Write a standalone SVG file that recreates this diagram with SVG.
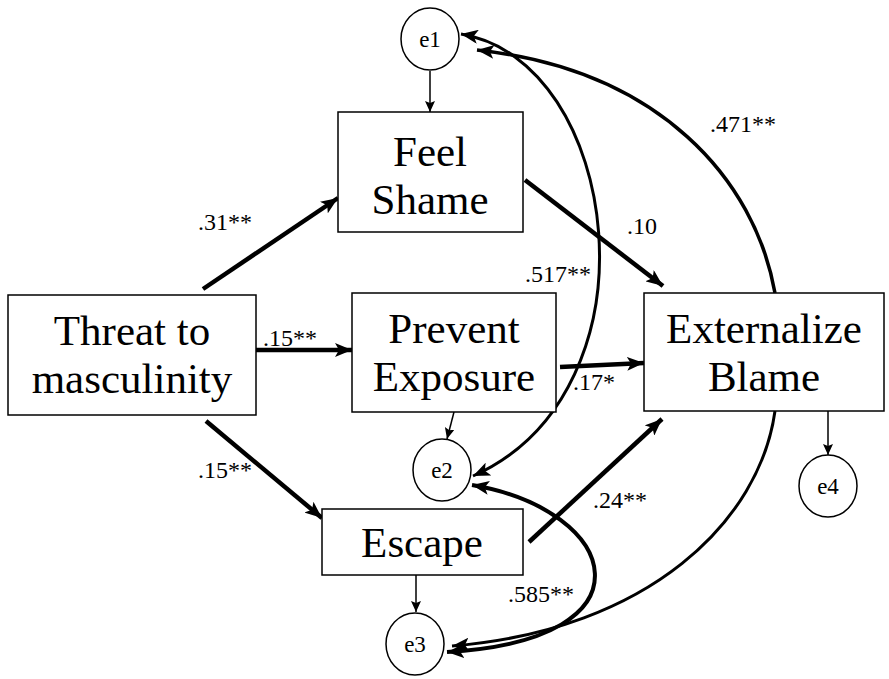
<svg xmlns="http://www.w3.org/2000/svg" width="889" height="679" viewBox="0 0 889 679">
  <style>
    .box { fill: #ffffff; stroke: #000000; stroke-width: 1.5; }
    .err { fill: #ffffff; stroke: #000000; stroke-width: 1.5; }
    .name { font-family: "Liberation Serif", "Times New Roman", serif; font-size: 43px; fill: #000000; text-anchor: middle; }
    .ename { font-family: "Liberation Serif", "Times New Roman", serif; font-size: 23px; fill: #000000; text-anchor: middle; }
    .coef { font-family: "Liberation Serif", "Times New Roman", serif; font-size: 24px; fill: #000000; }
    .path { fill: none; stroke: #000000; stroke-width: 4.5; marker-end: url(#head); }
    .thin { fill: none; stroke: #000000; stroke-width: 1.5; marker-end: url(#small); }
    .cov { fill: none; stroke: #000000; }
  </style>
  <defs>
    <marker id="head" markerUnits="userSpaceOnUse" markerWidth="18" markerHeight="14" refX="17" refY="7" orient="auto-start-reverse">
      <path d="M0,0 L17,7 L0,14 L4,7 z" fill="#000000"/>
    </marker>
    <marker id="small" markerUnits="userSpaceOnUse" markerWidth="12" markerHeight="10" refX="11" refY="5" orient="auto">
      <path d="M0,0 L11,5 L0,10 L2,5 z" fill="#000000"/>
    </marker>
  </defs>

  <!-- connectors -->
  <g id="connectors">
    <!-- structural paths -->
    <path class="path" d="M203,289 L338,198"/>
    <path class="path" d="M256,350 L352,350"/>
    <path class="path" d="M206,421 L322,518"/>
    <path class="path" d="M525,180 L663,286"/>
    <path class="path" d="M560,367 L644,363"/>
    <path class="path" d="M529,542 L662,419"/>
    <!-- disturbance terms -->
    <path class="thin" d="M430,71 L430,112"/>
    <path class="thin" d="M454,412 L447,439"/>
    <path class="thin" d="M416,575 L416,612"/>
    <path class="thin" d="M828,411 L828,455"/>
    <!-- covariances -->
    <path class="cov" stroke-width="3" d="M461,34 C620,60 665,390 473,476" marker-start="url(#head)" marker-end="url(#head)"/>
    <path class="cov" stroke-width="3.5" d="M775,293 C755,180 660,70 477,50" marker-end="url(#head)"/>
    <path class="cov" stroke-width="3" d="M775,411 C760,520 650,630 452,646" marker-end="url(#head)"/>
    <path class="cov" stroke-width="4" d="M472,485 C620,510 660,640 447,652" marker-start="url(#head)" marker-end="url(#head)"/>
  </g>

  <!-- coefficient labels -->
  <g id="labels">
    <text class="coef" x="198" y="230">.31**</text>
    <text class="coef" x="263" y="346">.15**</text>
    <text class="coef" x="198" y="478">.15**</text>
    <text class="coef" x="627" y="234">.10</text>
    <text class="coef" x="525" y="282">.517**</text>
    <text class="coef" x="573" y="390">.17*</text>
    <text class="coef" x="593" y="508">.24**</text>
    <text class="coef" x="508" y="602">.585**</text>
    <text class="coef" x="710" y="132">.471**</text>
  </g>

  <g id="threat">
    <rect class="box" x="8" y="295" width="248" height="120"/>
    <text class="name" x="132" y="345">Threat to</text>
    <text class="name" x="132" y="393">masculinity</text>
  </g>
  <g id="shame">
    <rect class="box" x="338" y="112" width="185" height="120"/>
    <text class="name" x="430" y="166">Feel</text>
    <text class="name" x="430" y="214">Shame</text>
  </g>
  <g id="prevent">
    <rect class="box" x="352" y="293" width="204" height="119"/>
    <text class="name" x="454" y="343">Prevent</text>
    <text class="name" x="454" y="391">Exposure</text>
  </g>
  <g id="externalize">
    <rect class="box" x="644" y="293" width="240" height="118"/>
    <text class="name" x="764" y="343">Externalize</text>
    <text class="name" x="764" y="391">Blame</text>
  </g>
  <g id="escape">
    <rect class="box" x="322" y="509" width="201" height="66"/>
    <text class="name" x="422" y="557">Escape</text>
  </g>

  <g id="e1">
    <ellipse class="err" cx="430" cy="39" rx="29" ry="31"/>
    <text class="ename" x="430" y="47">e1</text>
  </g>
  <g id="e2">
    <ellipse class="err" cx="442" cy="470" rx="29" ry="31"/>
    <text class="ename" x="442" y="478">e2</text>
  </g>
  <g id="e3">
    <ellipse class="err" cx="415" cy="644" rx="29" ry="31"/>
    <text class="ename" x="415" y="652">e3</text>
  </g>
  <g id="e4">
    <ellipse class="err" cx="828" cy="486" rx="29" ry="31"/>
    <text class="ename" x="828" y="494">e4</text>
  </g>
</svg>
